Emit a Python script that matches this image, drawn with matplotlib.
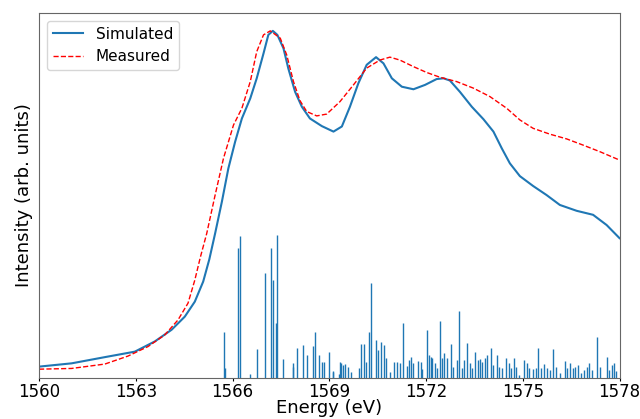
import matplotlib
matplotlib.use("Agg")
import matplotlib.pyplot as plt

# simulated spectrum (broadened)
sim_e = [1560.0, 1561.01, 1562.04, 1562.97, 1563.59, 1564.11, 1564.52, 1564.83,
         1565.09, 1565.28, 1565.46, 1565.67, 1565.87, 1566.08, 1566.29, 1566.55,
         1566.75, 1566.96, 1567.11, 1567.25, 1567.39, 1567.58, 1567.73, 1567.94,
         1568.15, 1568.40, 1568.77, 1569.13, 1569.39, 1569.64, 1569.90, 1570.16,
         1570.45, 1570.68, 1570.94, 1571.25, 1571.61, 1571.97, 1572.33, 1572.54,
         1572.74, 1573.05, 1573.42, 1573.78, 1574.09, 1574.35, 1574.60, 1574.91,
         1575.32, 1575.74, 1576.15, 1576.67, 1577.18, 1577.60, 1578.0]
sim_i = [0.031, 0.040, 0.057, 0.072, 0.100, 0.132, 0.168, 0.209,
         0.264, 0.325, 0.396, 0.483, 0.574, 0.647, 0.711, 0.766,
         0.821, 0.889, 0.940, 0.951, 0.940, 0.903, 0.848, 0.784,
         0.743, 0.711, 0.690, 0.675, 0.689, 0.743, 0.807, 0.858,
         0.879, 0.862, 0.821, 0.798, 0.791, 0.803, 0.819, 0.821,
         0.815, 0.784, 0.743, 0.709, 0.675, 0.629, 0.588, 0.553,
         0.526, 0.501, 0.474, 0.458, 0.447, 0.419, 0.383]

# measured spectrum
meas_e = [1560.0, 1561.01, 1562.04, 1562.76, 1563.38, 1563.90, 1564.31, 1564.62,
          1564.83, 1565.00, 1565.20, 1565.46, 1565.72, 1566.03, 1566.29, 1566.55,
          1566.75, 1566.96, 1567.17, 1567.48, 1567.68, 1567.89, 1568.09, 1568.30,
          1568.61, 1568.92, 1569.33, 1569.75, 1570.16, 1570.57, 1570.88, 1571.19,
          1571.61, 1572.02, 1572.43, 1572.95, 1573.47, 1573.98, 1574.50, 1574.91,
          1575.32, 1575.84, 1576.36, 1576.87, 1577.39, 1578.0]
meas_i = [0.024, 0.026, 0.038, 0.060, 0.086, 0.118, 0.159, 0.205,
          0.268, 0.330, 0.396, 0.501, 0.602, 0.693, 0.739, 0.812,
          0.894, 0.940, 0.951, 0.931, 0.885, 0.812, 0.760, 0.730,
          0.718, 0.723, 0.757, 0.803, 0.849, 0.871, 0.879, 0.871,
          0.853, 0.837, 0.824, 0.812, 0.794, 0.771, 0.739, 0.707,
          0.684, 0.668, 0.655, 0.638, 0.620, 0.597]

# transition sticks
stick_e = [1565.75, 1565.78, 1566.18, 1566.23, 1566.54, 1566.77, 1567.01, 1567.20,
           1567.26, 1567.34, 1567.37, 1567.57, 1567.86, 1567.88, 1568.01, 1568.20,
           1568.31, 1568.48, 1568.57, 1568.68, 1568.78, 1568.85, 1569.00, 1569.10,
           1569.11, 1569.30, 1569.33, 1569.37, 1569.43, 1569.49, 1569.57, 1569.66,
           1569.93, 1569.99, 1570.08, 1570.14, 1570.22, 1570.30, 1570.45, 1570.52,
           1570.60, 1570.71, 1570.76, 1570.88, 1571.02, 1571.09, 1571.18, 1571.29,
           1571.41, 1571.47, 1571.54, 1571.61, 1571.76, 1571.83, 1571.89, 1572.02,
           1572.08, 1572.14, 1572.20, 1572.28, 1572.35, 1572.43, 1572.49, 1572.57,
           1572.66, 1572.77, 1572.85, 1572.96, 1573.03, 1573.10, 1573.18, 1573.28,
           1573.35, 1573.43, 1573.52, 1573.62, 1573.67, 1573.75, 1573.82, 1573.90,
           1574.00, 1574.09, 1574.19, 1574.27, 1574.36, 1574.48, 1574.57, 1574.63,
           1574.73, 1574.79, 1574.89, 1575.05, 1575.12, 1575.20, 1575.31, 1575.41,
           1575.48, 1575.55, 1575.65, 1575.74, 1575.84, 1575.95, 1576.03, 1576.16,
           1576.30, 1576.38, 1576.47, 1576.56, 1576.63, 1576.71, 1576.82, 1576.90,
           1576.99, 1577.06, 1577.15, 1577.31, 1577.39, 1577.60, 1577.68, 1577.77,
           1577.82, 1577.90]
stick_h = [0.125, 0.028, 0.355, 0.390, 0.010, 0.079, 0.288, 0.355,
           0.268, 0.150, 0.392, 0.051, 0.042, 0.030, 0.083, 0.090,
           0.063, 0.088, 0.127, 0.063, 0.045, 0.043, 0.072, 0.015,
           0.020, 0.010, 0.043, 0.040, 0.036, 0.038, 0.030, 0.017,
           0.026, 0.093, 0.092, 0.045, 0.127, 0.259, 0.104, 0.077,
           0.099, 0.089, 0.054, 0.017, 0.045, 0.045, 0.040, 0.150,
           0.033, 0.049, 0.058, 0.040, 0.047, 0.045, 0.024, 0.130,
           0.063, 0.058, 0.054, 0.042, 0.026, 0.157, 0.056, 0.068,
           0.054, 0.093, 0.030, 0.050, 0.184, 0.026, 0.050, 0.096,
           0.040, 0.026, 0.070, 0.050, 0.051, 0.045, 0.054, 0.063,
           0.083, 0.036, 0.063, 0.031, 0.027, 0.054, 0.040, 0.027,
           0.054, 0.031, 0.008, 0.049, 0.040, 0.027, 0.024, 0.027,
           0.083, 0.027, 0.038, 0.027, 0.022, 0.078, 0.031, 0.013,
           0.047, 0.027, 0.040, 0.027, 0.031, 0.036, 0.013, 0.022,
           0.031, 0.040, 0.022, 0.113, 0.031, 0.057, 0.022, 0.036,
           0.040, 0.018]

xticks = [1560, 1563, 1566, 1569, 1572, 1575, 1578]

fig = plt.figure(figsize=(6.4, 4.19), dpi=100)
ax = fig.add_axes([0.061, 0.098, 0.907, 0.871])

ax.vlines(stick_e, 0, stick_h, color="#1f77b4", linewidth=1.0)
ax.plot(sim_e, sim_i, color="#1f77b4", linewidth=1.5, label="Simulated")
ax.plot(meas_e, meas_i, color="red", linestyle="--", linewidth=1.0, label="Measured")

ax.set_xlim(1560, 1578)
ax.set_ylim(0, 1.0)
ax.set_xticks(xticks)
ax.set_yticks([])
ax.tick_params(axis="x", labelsize=12, length=2, pad=1.5)
ax.set_xlabel("Energy (eV)", fontsize=13, labelpad=-1)
ax.set_ylabel("Intensity (arb. units)", fontsize=13, labelpad=4)
for s in ax.spines.values():
    s.set_color("#666666")

ax.legend(loc="upper left", fontsize=11, handlelength=2.0)

fig.savefig("out.png", dpi=100)
